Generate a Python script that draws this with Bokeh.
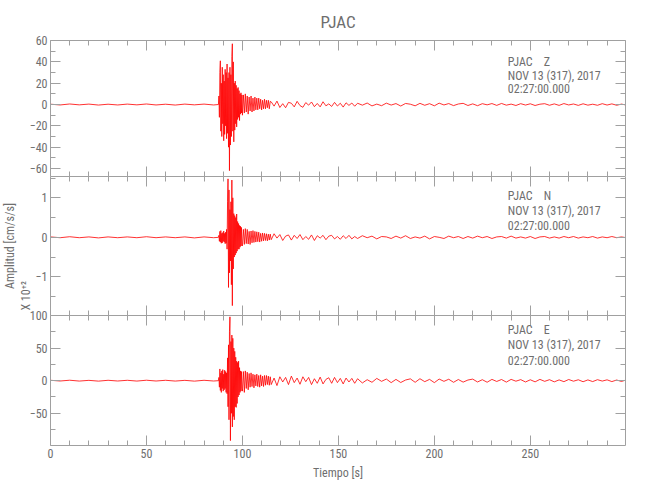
import numpy as np
from bokeh.plotting import figure
from bokeh.models import Range1d, LinearAxis, FixedTicker, Label, Title
from bokeh.layouts import column
from bokeh.embed import file_html
from bokeh.resources import INLINE

# ---------------- data ----------------
station = "PJAC"
channels = ["Z", "N", "E"]
date_text = "NOV 13 (317), 2017"
time_text = "02:27:00.000"
x_label = "Tiempo [s]"
y_label = "Amplitud [cm/s/s]"
scale_text = "X 10\u207a\u00b2"

# sampling segments of the traces: start time (s) and step (s)
seg_start = [0.0, 87.5, 100.0, 115.0, 160.0]
seg_step = [5.0, 0.25, 0.5, 1.5, 2.5]

x_ticks = [0, 50, 100, 150, 200, 250]
x_minor = [10, 20, 30, 40, 60, 70, 80, 90, 110, 120, 130, 140, 160, 170, 180, 190,
           210, 220, 230, 240, 260, 270, 280, 290]

# --- Z component (cm/s/s)
z_pre = [0.3, -0.4, 0.5, -0.3, 0.4, -0.5, 0.3, -0.4, 0.4, -0.3, 0.5, -0.4, 0.3, -0.5, 0.4, -0.3, 0.4, -0.4]
z_main = [0, 8, -12, 30, 41, -25, 20, -30, 35, -18,
          28, -34, 22, -28, 33, -20, 30, -32, 38, -27,
          25, -40, 30, -62, 35, -38, 28, -30, 45, 57,
          -25, 40, -35, 20, -24, 22, -18, 18, -21, 15,
          -14, 16, -12, 13, -15, 10, -9, 11, -8, 9]
z_mid = [-10, 9, -8, 10, -7, 8, -9, 7, -6, 8,
         -7, 6, -6, 7, -5, 6, -5, 6, -4, 5,
         -5, 4, -4, 5, -4, 4, -3, 4, -4, 3]
z_coda1 = [2.5, -1.5, 3.2, -2.8, 0.8, -3.0, 2.0, 1.2, -2.2, 3.0,
           -1.0, -2.6, 1.8, -0.6, 2.4, -2.0, 1.0, -2.2, 2.6, -1.2,
           0.6, -1.8, 2.0, -1.4, 1.2, -2.4, 1.6, -0.8, 1.4, -1.6]
z_coda2 = [1.2, -0.6, 1.4, -1.3, 0.4, -1.1, 1.3, -0.5, 0.9, -1.4,
           1.0, 0.3, -1.2, 1.1, -0.7, 0.8, -1.2, 1.3, -0.4, 0.9,
           -1.0, 0.5, 1.1, -0.9, 0.6, -1.1, 0.8, -0.3, 0.9, -0.8,
           1.0, -0.6, 0.4, -0.9, 0.8, -0.5, 0.7, -0.9, 0.3, 0.8,
           -0.7, 0.6, -0.8, 0.9, -0.4, 0.5, -0.8, 0.7, -0.6, 0.3,
           -0.7, 0.8, -0.5, 0.6, -0.7, 0.4, -0.5]

# --- N component (x 10^2 cm/s/s)
n_pre = [0.01, -0.01, 0.015, -0.01, 0.01, -0.015, 0.01, -0.01, 0.01, -0.01, 0.015, -0.01, 0.01, -0.01, 0.01, -0.015, 0.01, -0.01]
n_main = [0, 0.05, -0.1, 0.15, -0.12, 0.17, -0.15, 0.1, -0.14, 0.12,
          -0.1, 0.16, -0.12, 0.1, -0.16, 0.13, -0.15, 0.2, -0.3, 0.9,
          1.48, -1.27, 1.2, -0.9, 0.7, -0.6, 0.9, -1.2, 1.45, -1.73,
          1.0, -0.8, 0.6, -0.5, 0.55, -0.45, 0.5, -0.4, 0.59, -0.35,
          0.4, -0.3, 0.35, -0.3, 0.3, -0.25, 0.28, -0.22, 0.25, -0.2]
n_mid = [-0.22, 0.2, -0.18, 0.22, -0.16, 0.2, -0.17, 0.15, -0.18, 0.16,
         -0.14, 0.17, -0.13, 0.15, -0.12, 0.14, -0.11, 0.13, -0.12, 0.1,
         -0.1, 0.11, -0.09, 0.1, -0.08, 0.09, -0.09, 0.08, -0.07, 0.08]
n_coda1 = [-0.06, 0.09, -0.02, 0.07, -0.08, 0.03, 0.06, -0.07, 0.05, -0.03,
           0.07, -0.06, 0.02, -0.05, 0.06, -0.08, 0.04, -0.02, 0.05, -0.06,
           0.03, 0.05, -0.04, 0.02, -0.05, 0.04, -0.03, 0.05, -0.04, 0.02]
n_coda2 = [-0.03, 0.04, -0.01, 0.03, -0.04, 0.02, 0.01, -0.03, 0.03, -0.02,
           0.04, -0.03, 0.01, -0.02, 0.03, -0.04, 0.02, 0.0, -0.03, 0.03,
           -0.01, 0.02, -0.03, 0.02, -0.02, 0.03, -0.01, 0.02, -0.03, 0.01,
           0.02, -0.02, 0.03, -0.02, 0.01, -0.02, 0.02, -0.03, 0.01, 0.02,
           -0.02, 0.01, -0.02, 0.02, -0.01, 0.02, -0.02, 0.01, -0.01, 0.02,
           -0.02, 0.01, -0.01, 0.02, -0.01, 0.01, -0.01]

# --- E component (cm/s/s)
e_pre = [0.6, -0.5, 0.7, -0.6, 0.5, -0.7, 0.6, -0.5, 0.6, -0.6, 0.7, -0.5, 0.6, -0.6, 0.5, -0.7, 0.6, -0.5]
e_main = [0, 5, -10, 18, -15, 12, -18, 15, -12, 17,
          -16, 10, -14, 16, -12, 14, -18, 12, -20, 35,
          -40, 55, -60, 75, 98, -92, 60, -50, 70, -71,
          65, -55, 50, -60, 45, -40, 36, -41, 30, -35,
          28, -25, 30, -22, 20, -18, 15, -16, 14, -12]
e_mid = [-16, 14, -18, 15, -12, 13, -14, 11, -10, 12,
         -9, 10, -11, 9, -8, 10, -9, 8, -10, 9,
         -8, 7, -9, 8, -7, 8, -6, 7, -7, 6]
e_coda1 = [-6, 4, -7.5, 6, -2, 5, -6, 7, -3, 4,
           -5.5, 6, -1.5, 5, -6, 3, -4, 5.5, -5, 2,
           4.5, -4, 5, -3, 3.5, -5, 4, -2, 3.5, -4]
e_coda2 = [3, -3.5, 1.5, -2.5, 3.5, -1, 2.5, -3, 2, -2.8,
           1, 2.8, -2.5, 3, -1.5, 2, -3, 2.5, -1, 2.2,
           -2.5, 1.8, -2.2, 1, 2.4, -2, 1.5, -2.4, 2, -1.2,
           1.8, -2.2, 2, -0.8, 1.6, -2, 1.4, -1.8, 2, -1,
           1.5, -1.8, 1.2, -1.5, 1.8, -0.8, 1.4, -1.6, 1.2, -1.4,
           1.5, -0.6, 1.3, -1.4, 1, -1.2, 1.2]

traces = {
    "Z": [z_pre, z_main, z_mid, z_coda1, z_coda2],
    "N": [n_pre, n_main, n_mid, n_coda1, n_coda2],
    "E": [e_pre, e_main, e_mid, e_coda1, e_coda2],
}

# y axis settings per panel
y_ranges = {"Z": (-67.5, 60.05), "N": (-1.98, 1.54), "E": (-99.5, 100.05)}
y_major = {"Z": [-60, -40, -20, 0, 20, 40, 60], "N": [-1, 0, 1], "E": [-50, 0, 50, 100]}
y_minor = {"Z": [-50, -30, -10, 10, 30, 50], "N": [-1.5, -0.5, 0.5, 1.5], "E": [-75, -25, 25, 75]}

# ---------------- style ----------------
FONT = "Roboto Condensed, DejaVu Sans Condensed, Liberation Sans Narrow, Liberation Sans"
TXT = "#6e6e6e"
AX = "#a0a0a0"
RED = "#ff0000"


def build_xy(segs):
    t, v = [], []
    for start, step, vals in zip(seg_start, seg_step, segs):
        t.extend(start + step * np.arange(len(vals)))
        v.extend(vals)
    return np.array(t), np.array(v)


def style_axis(ax, labels):
    ax.axis_line_color = AX
    ax.major_tick_line_color = AX
    ax.minor_tick_line_color = AX
    ax.major_tick_in = 10
    ax.major_tick_out = 0
    ax.minor_tick_in = 5
    ax.minor_tick_out = 0
    ax.axis_label_standoff = 0
    if labels:
        ax.major_label_text_font = FONT
        ax.major_label_text_font_size = "12px"
        ax.major_label_text_color = TXT
        ax.major_label_standoff = 3
    else:
        ax.major_label_text_font_size = "0px"
        ax.major_label_text_color = None
        ax.major_label_standoff = 0


def make_panel(ch, frame_h, top, bottom, xlabels, margin=None):
    kw = {}
    if margin is not None:
        kw["margin"] = margin
    p = figure(frame_width=575, frame_height=frame_h,
               x_range=Range1d(0, 299.6), y_range=Range1d(*y_ranges[ch]),
               output_backend="svg", toolbar_location=None,
               min_border_left=48, min_border_right=19,
               min_border_top=top, min_border_bottom=bottom,
               outline_line_color=None, border_fill_color=None,
               background_fill_color="white", **kw)
    p.grid.visible = False
    bottom_ax = p.below[0]
    left_ax = p.left[0]
    bottom_ax.ticker = FixedTicker(ticks=x_ticks, minor_ticks=x_minor)
    left_ax.ticker = FixedTicker(ticks=y_major[ch], minor_ticks=y_minor[ch])
    style_axis(bottom_ax, xlabels)
    style_axis(left_ax, True)
    top_ax = LinearAxis(ticker=FixedTicker(ticks=x_ticks, minor_ticks=x_minor))
    style_axis(top_ax, False)
    p.add_layout(top_ax, "above")
    right_ax = LinearAxis(ticker=FixedTicker(ticks=y_major[ch], minor_ticks=y_minor[ch]))
    style_axis(right_ax, False)
    p.add_layout(right_ax, "right")

    t, v = build_xy(traces[ch])
    p.line(t, v, line_color=RED, line_width=0.9, line_alpha=0.9)
    return p


def add_text(p, x, y, text, size="12px"):
    p.add_layout(Label(x=x, y=y, text=text, text_font=FONT, text_font_size=size,
                       text_color=TXT, text_align="left", text_baseline="middle"))


p1 = make_panel("Z", 136, 40, 0, False)
p2 = make_panel("N", 139, 0, 0, False)
p3 = make_panel("E", 130, 6, 40, True, margin=(-6, 0, 0, 0))

# station info labels (positions in data units of each panel)
info_pos = {
    "Z": (p1, [40.3, 27.2, 14.1]),
    "N": (p2, [1.056, 0.676, 0.296]),
    "E": (p3, [78.5, 55.4, 30.8]),
}
for ch in channels:
    p, ys = info_pos[ch]
    add_text(p, 238.3, ys[0], station)
    add_text(p, 257.0, ys[0], ch)
    add_text(p, 238.3, ys[1], date_text)
    add_text(p, 238.3, ys[2], time_text)

# title
p1.title.text = station
p1.title.align = "center"
p1.title.text_font = FONT
p1.title.text_font_size = "17px"
p1.title.text_font_style = "normal"
p1.title.text_color = TXT
p1.title.standoff = 18

# x axis title (bottom axis of the lowest panel only)
xb = p3.below[0]
xb.axis_label = x_label
xb.axis_label_text_font = FONT
xb.axis_label_text_font_size = "12px"
xb.axis_label_text_font_style = "normal"
xb.axis_label_text_color = TXT
xb.axis_label_standoff = 5

# y axis titles (vertical, in the left margin of the middle panel)
scale_title = Title(text=scale_text, align="left", offset=5, standoff=0,
                    text_font=FONT, text_font_size="12px", text_font_style="normal",
                    text_color=TXT)
p2.add_layout(scale_title, "left")
amp_title = Title(text=y_label, align="center", standoff=0,
                  text_font=FONT, text_font_size="12px", text_font_style="normal",
                  text_color=TXT)
p2.add_layout(amp_title, "left")
# invisible spacer at the outer edge, nudging the vertical titles towards the frame
spacer = Title(text=" ", standoff=5, text_font_size="1px", text_color=None)
p2.add_layout(spacer, "left")

layout = column(p1, p2, p3, spacing=0)
open("out.html", "w").write(file_html(layout, INLINE))
